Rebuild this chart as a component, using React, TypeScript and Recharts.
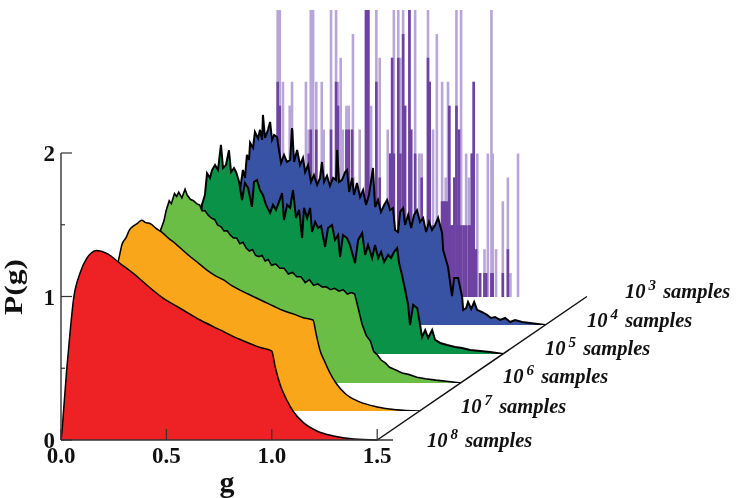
import { AreaChart, Area, BarChart, Bar, ComposedChart, XAxis, YAxis, ReferenceLine } from 'recharts'

// red, 10^8 samples
const gRed = [0, 0.004, 0.011, 0.027, 0.043, 0.059, 0.09, 0.122, 0.145, 0.169, 0.217, 0.28, 0.343, 0.407, 0.486, 0.565, 0.66, 0.755, 0.85, 0.945, 1.0, 1.016, 1.04, 1.071, 1.103, 1.15, 1.214, 1.293, 1.388, 1.5]
const pRed = [0, 0.05, 0.18, 0.49, 0.75, 0.976, 1.162, 1.266, 1.305, 1.32, 1.301, 1.231, 1.161, 1.08, 0.987, 0.918, 0.836, 0.767, 0.7, 0.645, 0.62, 0.511, 0.383, 0.279, 0.197, 0.121, 0.063, 0.028, 0.007, 0]

// orange, 10^7 samples
const gOrange = [0, 0.005, 0.012, 0.028, 0.044, 0.06, 0.075, 0.09, 0.11, 0.125, 0.145, 0.165, 0.184, 0.2, 0.225, 0.25, 0.28, 0.31, 0.345, 0.375, 0.41, 0.445, 0.49, 0.53, 0.57, 0.615, 0.66, 0.71, 0.76, 0.81, 0.855, 0.905, 0.95, 0.996, 1.012, 1.03, 1.05, 1.075, 1.105, 1.15, 1.215, 1.295, 1.39, 1.5]
const pOrange = [0, 0.06, 0.2, 0.5, 0.76, 0.97, 1.06, 1.16, 1.21, 1.26, 1.29, 1.31, 1.33, 1.315, 1.305, 1.275, 1.245, 1.205, 1.165, 1.125, 1.08, 1.04, 0.985, 0.945, 0.915, 0.87, 0.835, 0.8, 0.765, 0.73, 0.7, 0.675, 0.65, 0.634, 0.53, 0.42, 0.35, 0.27, 0.195, 0.12, 0.065, 0.03, 0.008, 0]

// light green, 10^6 samples
const gLight = [0, 0.01, 0.02, 0.03, 0.04, 0.05, 0.06, 0.075, 0.09, 0.1, 0.115, 0.125, 0.14, 0.15, 0.16, 0.175, 0.19, 0.2, 0.215, 0.23, 0.245, 0.26, 0.27, 0.285, 0.3, 0.315, 0.33, 0.345, 0.36, 0.375, 0.39, 0.405, 0.42, 0.435, 0.45, 0.465, 0.48, 0.495, 0.51, 0.525, 0.54, 0.555, 0.57, 0.585, 0.6, 0.62, 0.64, 0.66, 0.68, 0.7, 0.72, 0.74, 0.76, 0.78, 0.8, 0.82, 0.84, 0.86, 0.88, 0.9, 0.92, 0.94, 0.96, 0.98, 0.995, 1.005, 1.02, 1.03, 1.05, 1.07, 1.085, 1.1, 1.12, 1.14, 1.16, 1.19, 1.22, 1.25, 1.29, 1.33, 1.38, 1.44, 1.5]
const pLight = [0, 0.2, 0.45, 0.65, 0.72, 0.92, 0.98, 1.07, 1.13, 1.2, 1.27, 1.25, 1.32, 1.3, 1.33, 1.29, 1.35, 1.31, 1.28, 1.27, 1.25, 1.24, 1.2, 1.2, 1.17, 1.15, 1.14, 1.1, 1.09, 1.06, 1.06, 1.03, 1.01, 1.01, 0.97, 0.98, 0.94, 0.92, 0.93, 0.89, 0.88, 0.89, 0.85, 0.86, 0.82, 0.83, 0.8, 0.8, 0.76, 0.77, 0.74, 0.74, 0.7, 0.72, 0.68, 0.69, 0.67, 0.67, 0.65, 0.66, 0.64, 0.65, 0.62, 0.63, 0.62, 0.56, 0.47, 0.41, 0.33, 0.29, 0.22, 0.2, 0.16, 0.14, 0.11, 0.09, 0.07, 0.06, 0.04, 0.03, 0.02, 0.01, 0]

// green, 10^5 samples
const gGreen = [0, 0.009, 0.024, 0.038, 0.052, 0.062, 0.071, 0.085, 0.095, 0.109, 0.119, 0.133, 0.147, 0.161, 0.171, 0.185, 0.199, 0.209, 0.223, 0.233, 0.247, 0.261, 0.275, 0.29, 0.308, 0.318, 0.332, 0.346, 0.36, 0.375, 0.394, 0.408, 0.422, 0.436, 0.451, 0.46, 0.475, 0.489, 0.503, 0.517, 0.532, 0.546, 0.555, 0.57, 0.584, 0.593, 0.608, 0.622, 0.636, 0.655, 0.669, 0.688, 0.702, 0.717, 0.726, 0.74, 0.759, 0.773, 0.797, 0.812, 0.831, 0.845, 0.859, 0.878, 0.892, 0.907, 0.921, 0.935, 0.954, 0.968, 0.982, 0.997, 1.006, 1.02, 1.035, 1.049, 1.058, 1.073, 1.092, 1.106, 1.115, 1.13, 1.144, 1.163, 1.177, 1.201, 1.234, 1.272, 1.305, 1.343, 1.391, 1.438, 1.5]
const pGreen = [0, 0.237, 0.55, 0.76, 0.9, 0.878, 1.04, 1.108, 1.26, 1.227, 1.282, 1.317, 1.282, 1.457, 1.296, 1.317, 1.42, 1.268, 1.296, 1.268, 1.2, 1.073, 1.192, 1.157, 1.025, 1.2, 1.213, 1.143, 1.108, 1.039, 0.983, 1.039, 1.004, 1.059, 1.122, 0.934, 1.039, 1.018, 1.143, 0.948, 1.004, 0.808, 1.018, 0.948, 1.018, 0.85, 0.92, 0.878, 0.892, 0.746, 0.878, 0.899, 0.795, 0.829, 0.676, 0.829, 0.808, 0.76, 0.634, 0.795, 0.843, 0.69, 0.76, 0.669, 0.76, 0.669, 0.711, 0.641, 0.69, 0.669, 0.711, 0.739, 0.634, 0.551, 0.446, 0.342, 0.202, 0.342, 0.321, 0.202, 0.118, 0.167, 0.112, 0.167, 0.098, 0.077, 0.063, 0.049, 0.042, 0.028, 0.021, 0.014, 0]

// blue, 10^4 samples
const gBlue = [0, 0.009, 0.024, 0.038, 0.052, 0.066, 0.076, 0.085, 0.095, 0.1, 0.114, 0.123, 0.138, 0.147, 0.157, 0.161, 0.171, 0.185, 0.195, 0.204, 0.214, 0.228, 0.237, 0.247, 0.261, 0.275, 0.29, 0.299, 0.309, 0.323, 0.337, 0.351, 0.361, 0.375, 0.389, 0.403, 0.418, 0.432, 0.441, 0.451, 0.465, 0.479, 0.494, 0.508, 0.513, 0.522, 0.536, 0.551, 0.56, 0.57, 0.584, 0.593, 0.607, 0.622, 0.636, 0.65, 0.664, 0.683, 0.693, 0.707, 0.721, 0.736, 0.75, 0.764, 0.778, 0.788, 0.802, 0.812, 0.826, 0.835, 0.85, 0.864, 0.878, 0.892, 0.906, 0.921, 0.935, 0.949, 0.963, 0.978, 0.992, 1.011, 1.016, 1.039, 1.058, 1.068, 1.087, 1.106, 1.111, 1.125, 1.134, 1.149, 1.163, 1.177, 1.201, 1.224, 1.243, 1.262, 1.286, 1.31, 1.334, 1.357, 1.391, 1.428, 1.466, 1.5]
const pBlue = [0, 0.244, 0.523, 0.8, 0.94, 1.08, 1.025, 1.185, 1.15, 1.27, 1.234, 1.345, 1.3, 1.36, 1.29, 1.464, 1.303, 1.36, 1.415, 1.29, 1.324, 1.31, 1.22, 1.13, 1.185, 1.136, 1.15, 1.373, 1.136, 1.22, 1.115, 1.164, 1.066, 1.115, 0.997, 1.045, 0.976, 1.025, 1.136, 0.997, 1.04, 0.969, 1.025, 1.01, 1.22, 0.997, 1.01, 1.066, 1.08, 0.927, 1.025, 0.906, 0.99, 0.892, 0.94, 0.836, 0.906, 1.094, 0.822, 0.871, 0.788, 0.836, 0.871, 0.8, 0.815, 0.662, 0.648, 0.788, 0.815, 0.697, 0.767, 0.676, 0.767, 0.8, 0.718, 0.746, 0.648, 0.718, 0.662, 0.697, 0.746, 0.641, 0.523, 0.404, 0.202, 0.328, 0.328, 0.195, 0.105, 0.118, 0.16, 0.112, 0.16, 0.105, 0.09, 0.07, 0.049, 0.056, 0.035, 0.049, 0.021, 0.035, 0.021, 0.014, 0.007, 0]

// purple sticks, 10^3 samples
const gSticks = [0.027, 0.037, 0.052, 0.084, 0.095, 0.161, 0.174, 0.184, 0.195, 0.21, 0.236, 0.245, 0.28, 0.304, 0.313, 0.326, 0.336, 0.353, 0.364, 0.38, 0.384, 0.416, 0.446, 0.457, 0.47, 0.495, 0.511, 0.549, 0.561, 0.57, 0.578, 0.599, 0.609, 0.622, 0.631, 0.652, 0.66, 0.679, 0.699, 0.71, 0.74, 0.748, 0.764, 0.782, 0.807, 0.815, 0.824, 0.835, 0.841, 0.85, 0.858, 0.865, 0.875, 0.88, 0.887, 0.897, 0.909, 0.921, 0.934, 0.94, 0.948, 0.957, 0.968, 0.974, 0.987, 1.008, 1.016, 1.024, 1.041, 1.047, 1.063, 1.095, 1.119, 1.131, 1.167]
const pSticksOuter = [2, 2, 1.5, 1.333, 1.5, 1.5, 1.167, 2, 2, 1.5, 1.5, 1.167, 2, 2, 1.5, 1.667, 1.167, 1.333, 1.333, 1.167, 1.833, 1.167, 2, 2, 1.333, 2, 1.667, 1.167, 1, 1.667, 2, 2, 1.667, 2, 1.333, 2, 1.167, 2, 1, 1, 2, 1.5, 1.167, 1.833, 1.5, 0.667, 0.833, 1.5, 1.333, 0.5, 0.5, 0.833, 2, 0.5, 1.167, 2, 0.5, 1, 0.833, 0.5, 1, 1.5, 0.333, 1, 0.167, 0.333, 0.167, 1, 2, 1, 0.333, 0.667, 0.833, 0.167, 1]
const pSticksInner = [1.5, 1.333, 0.5, 0.5, 1.167, 0.5, 1, 1.167, 0.5, 1.167, 0.667, 0.667, 1.167, 1.5, 1.333, 0.667, 0.5, 1.167, 1.167, 1.167, 0.833, 0.667, 2, 2, 0.5, 1.5, 0.833, 0.5, 1, 1.667, 1, 1.667, 1, 1.833, 1.333, 2, 1.167, 1, 0.5, 0.833, 1.667, 1.5, 0.5, 0.5, 0.667, 0.667, 0.667, 0.667, 1.333, 0.5, 0.5, 0.833, 1.333, 0.5, 1.167, 0.5, 0.5, 0.5, 0.5, 0.5, 1, 1.5, 0.333, 0, 0.167, 0.167, 0.167, 0, 0.167, 0.167, 0, 0.167, 0.333, 0, 0]

const xTicks = [0, 0.5, 1, 1.5]
const yTicks = [0, 0.5, 1, 1.5, 2]
const exponents = ['8', '7', '6', '5', '4', '3']
const labelX = [427, 461, 503, 545, 587, 625]
const labelY = [447, 413, 383, 355, 327, 298]

const toRows = (g: number[], p: number[]) => g.map((v, i) => ({ g: v, p: p[i] }))

const serif = '"Liberation Serif", serif'
const plotW = 332
const plotH = 287
const stepX = 42.1
const stepY = 28.7
const xDomain: [number, number] = [0, 1.575]

function Layer({ g, p, color, depth, line, curve }: { g: number[]; p: number[]; color: string; depth: number; line: number; curve: 'linear' | 'monotone' }) {
    return (
        <div style={{ position: 'absolute', left: 61 + stepX * depth, top: 153 - stepY * depth }}>
            <AreaChart width={plotW} height={plotH} data={toRows(g, p)} margin={{ top: 0, right: 0, bottom: 0, left: 0 }}>
                <XAxis type="number" dataKey="g" domain={xDomain} hide />
                <YAxis type="number" domain={[0, 2]} hide />
                <Area
                    type={curve}
                    dataKey="p"
                    fill={color}
                    fillOpacity={1}
                    stroke="#000"
                    strokeWidth={line}
                    isAnimationActive={false}
                />
            </AreaChart>
        </div>
    )
}

// the band of a number axis gets tiny here, so each stick keeps its own width
function Stick({ x, y, width, height, fill }: any) {
    return <rect x={x + width / 2 - 1.3} y={y} width={2.6} height={height} fill={fill} />
}

function Sticks({ p, color }: { p: number[]; color: string }) {
    return (
        <div style={{ position: 'absolute', left: 61 + stepX * 5, top: 153 - stepY * 5 }}>
            <BarChart width={plotW} height={plotH} data={toRows(gSticks, p)} margin={{ top: 0, right: 0, bottom: 0, left: 0 }}>
                <XAxis type="number" dataKey="g" domain={xDomain} hide />
                <YAxis type="number" domain={[0, 2]} hide />
                <Bar dataKey="p" fill={color} shape={Stick} isAnimationActive={false} />
            </BarChart>
        </div>
    )
}

function XTick({ x, y, payload }: any) {
    return (
        <g>
            <line x1={x} x2={x} y1={y} y2={y - 11} stroke="#333" strokeWidth={1.2} />
            <text x={x} y={y + 23} textAnchor="middle" fontFamily={serif} fontWeight="bold" fontSize={23} fill="#111">
                {payload.value.toFixed(1)}
            </text>
        </g>
    )
}

function YTick({ x, y, payload }: any) {
    const major = Number.isInteger(payload.value)
    return (
        <g>
            <line x1={x} x2={x + (major ? 11 : 4)} y1={y} y2={y} stroke="#333" strokeWidth={1.2} />
            {major && (
                <text x={x - 6} y={y + 8} textAnchor="end" fontFamily={serif} fontWeight="bold" fontSize={23} fill="#111">
                    {payload.value}
                </text>
            )}
        </g>
    )
}

export default function App() {
    return (
        <div style={{ position: 'relative', width: 740, height: 498, overflow: 'hidden', filter: 'blur(0.4px)' }}>
            <style>{'body { margin: 0; background: #fff; }'}</style>
            <Sticks p={pSticksOuter} color="#b9a6d8" />
            <Sticks p={pSticksInner} color="#6e42a2" />
            <Layer g={gBlue} p={pBlue} color="#3953a4" depth={4} line={2} curve="linear" />
            <Layer g={gGreen} p={pGreen} color="#0a9248" depth={3} line={2} curve="linear" />
            <Layer g={gLight} p={pLight} color="#6abd45" depth={2} line={1.6} curve="linear" />
            <Layer g={gOrange} p={pOrange} color="#faa61a" depth={1} line={1.5} curve="monotone" />
            <div style={{ position: 'absolute', left: 0, top: 0 }}>
                <ComposedChart
                    width={740}
                    height={498}
                    data={toRows(gRed, pRed)}
                    margin={{ top: 153, right: 347, bottom: 0, left: 0 }}
                >
                    <Area
                        type="monotone"
                        dataKey="p"
                        fill="#ee2224"
                        fillOpacity={1}
                        stroke="#000"
                        strokeWidth={1.5}
                        isAnimationActive={false}
                    />
                    <XAxis
                        type="number"
                        dataKey="g"
                        domain={xDomain}
                        ticks={xTicks}
                        interval={0}
                        height={58}
                        tickSize={0}
                        tickMargin={0}
                        tick={XTick}
                        axisLine={{ stroke: '#333', strokeWidth: 1.4 }}
                    />
                    <YAxis
                        type="number"
                        domain={[0, 2]}
                        ticks={yTicks}
                        interval={0}
                        width={61}
                        tickSize={0}
                        tickMargin={0}
                        tick={YTick}
                        axisLine={{ stroke: '#333', strokeWidth: 1.4 }}
                    />
                    <ReferenceLine
                        segment={[{ x: 1.5, y: 0 }, { x: 2.495, y: 1 }]}
                        stroke="#111"
                        strokeWidth={1.5}
                        ifOverflow="visible"
                    />
                </ComposedChart>
            </div>
            <svg width={740} height={498} style={{ position: 'absolute', left: 0, top: 0 }}>
                <text x={227} y={492} textAnchor="middle" fontFamily={serif} fontWeight="bold" fontSize={30} fill="#111">
                    g
                </text>
                <text
                    transform="translate(22 287) rotate(-90)"
                    textAnchor="middle"
                    textLength={56}
                    lengthAdjust="spacingAndGlyphs"
                    fontFamily={serif}
                    fontWeight="bold"
                    fontSize={26}
                    fill="#111"
                >
                    P(g)
                </text>
                {exponents.map((e, i) => (
                    <text
                        key={e}
                        x={labelX[i]}
                        y={labelY[i]}
                        fontFamily={serif}
                        fontWeight="bold"
                        fontStyle="italic"
                        fontSize={20.5}
                        fill="#111"
                    >
                        10
                        <tspan dx={3} dy={-8} fontSize={15}>{e}</tspan>
                        <tspan dx={2} dy={8}> samples</tspan>
                    </text>
                ))}
            </svg>
        </div>
    )
}
